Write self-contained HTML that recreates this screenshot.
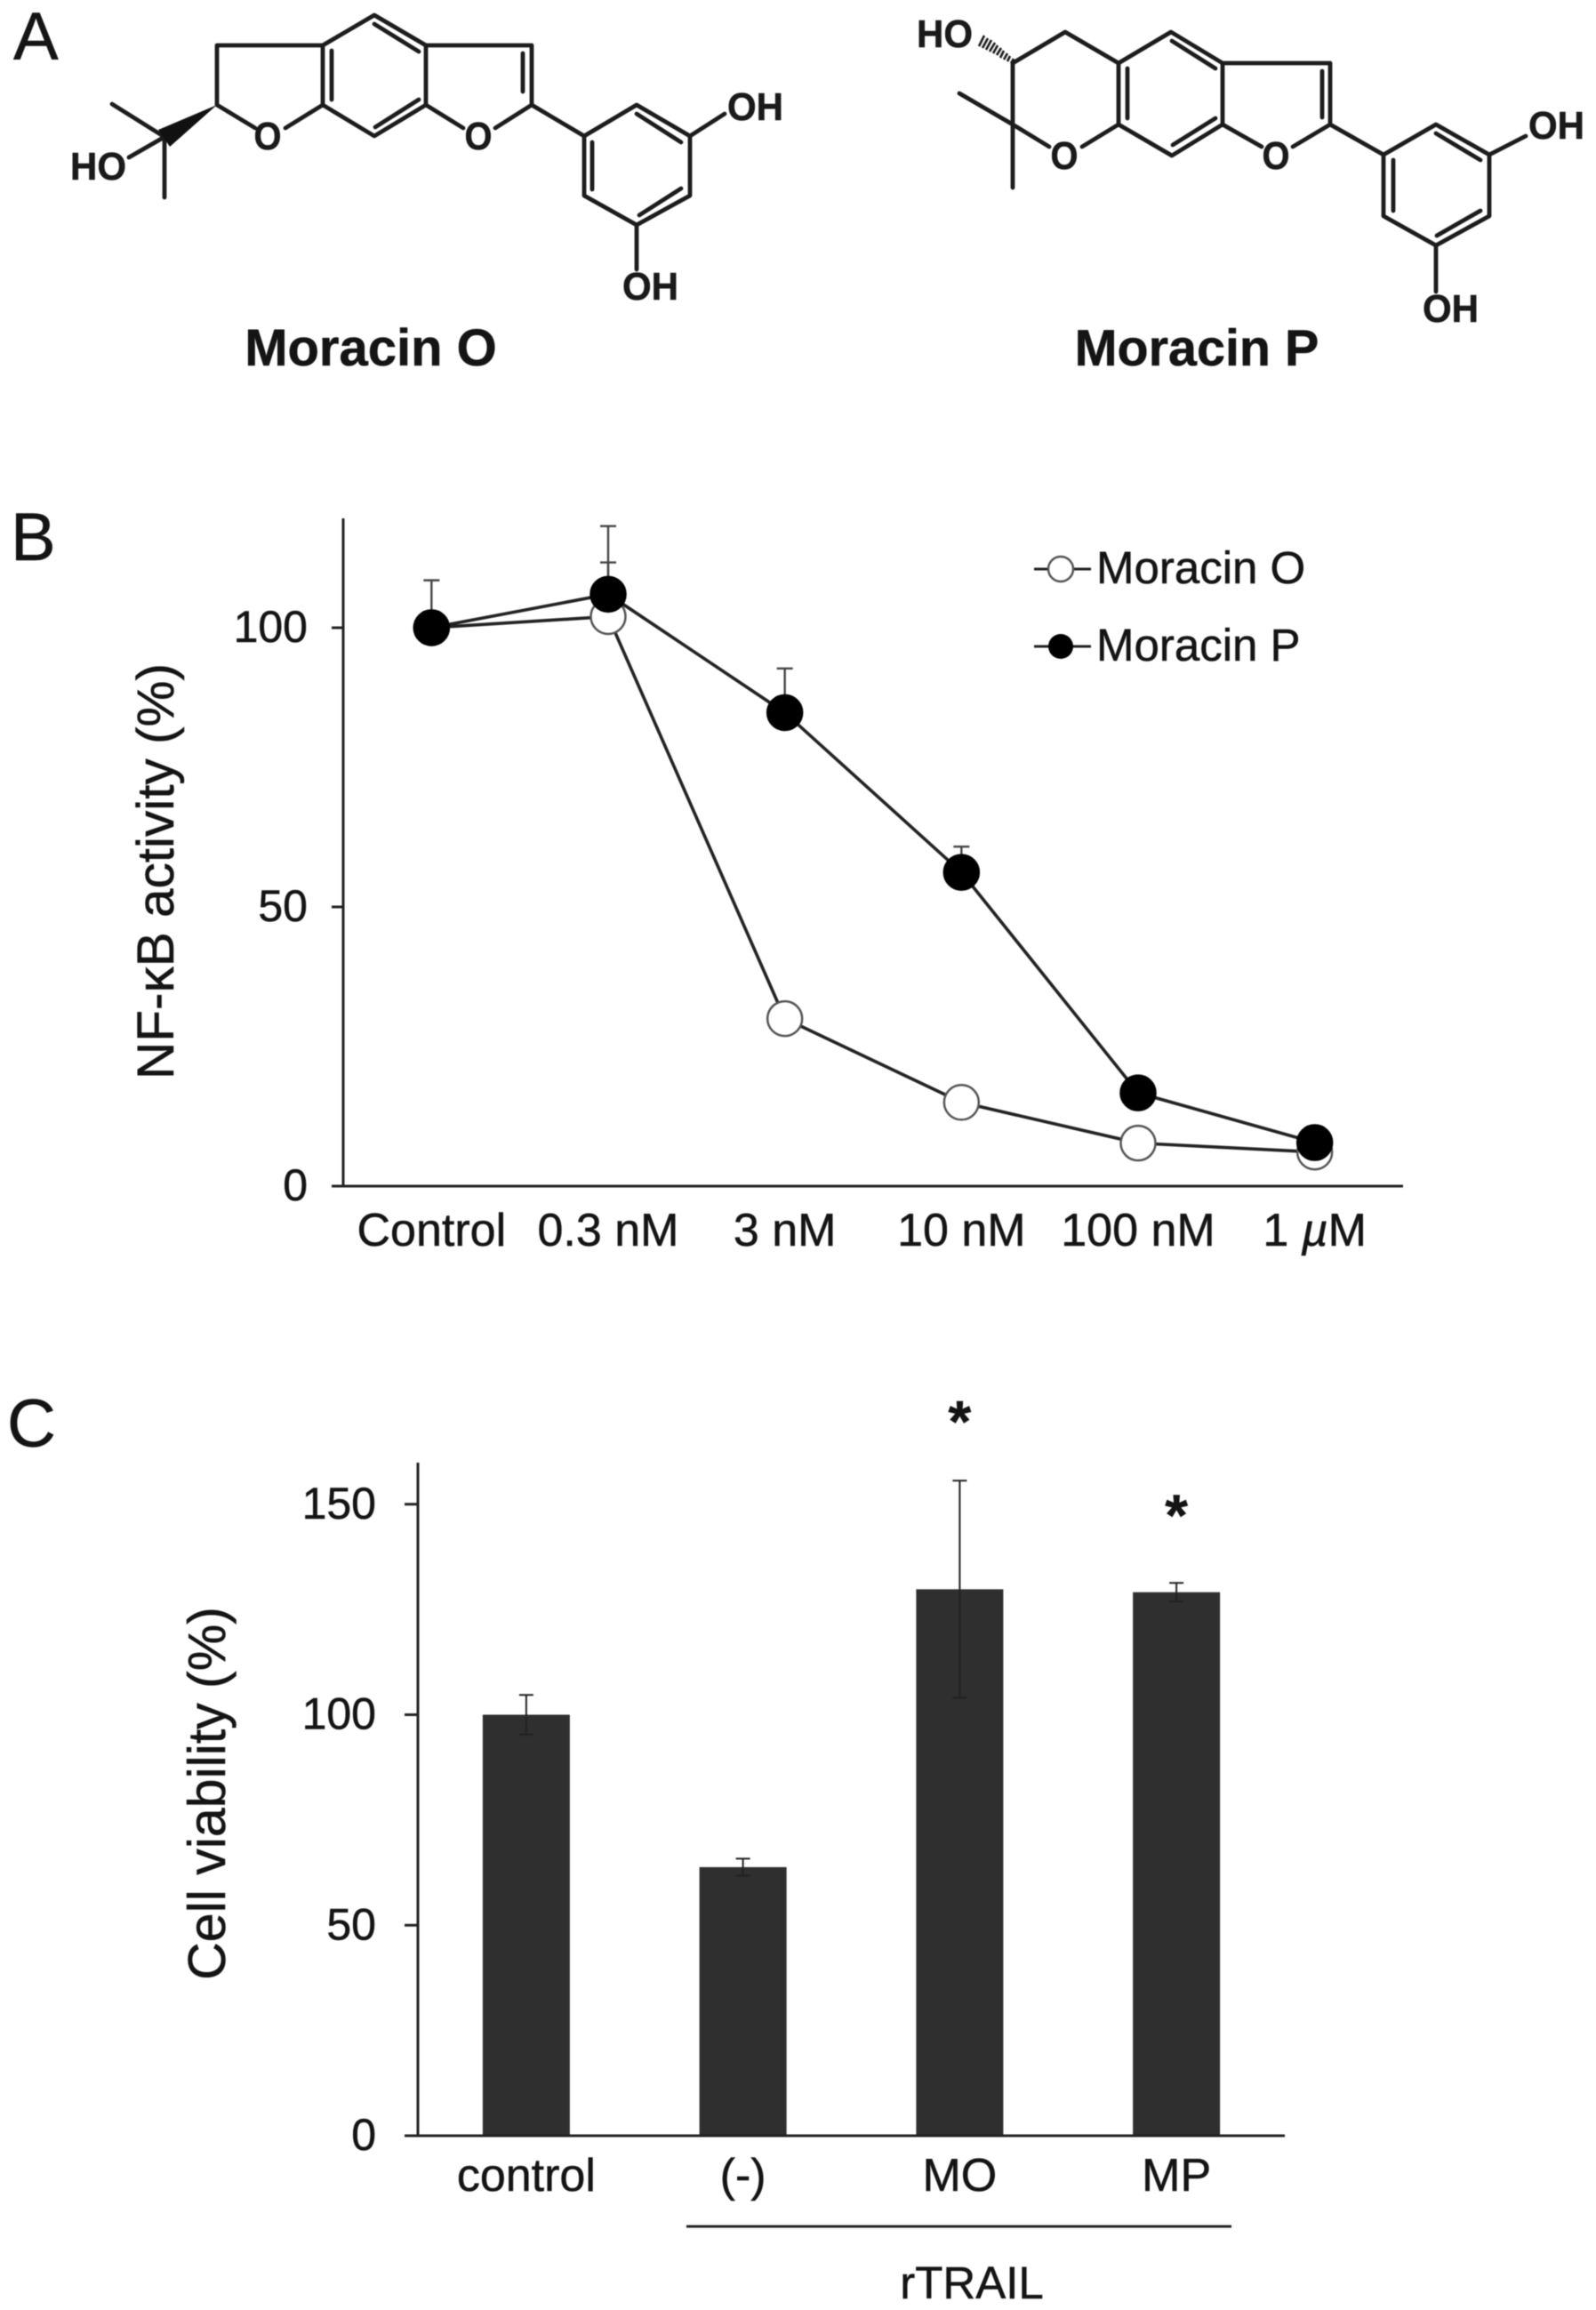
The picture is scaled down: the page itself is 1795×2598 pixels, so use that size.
<!DOCTYPE html>
<html lang="en">
<head>
<meta charset="utf-8">
<title>Moracin O and P figure</title>
<style>
html,body{margin:0;padding:0;background:#fff;width:1795px;height:2598px;overflow:hidden}
svg{display:block;filter:blur(0.6px)}
text{font-family:"Liberation Sans",Arial,sans-serif;fill:#141414;stroke:#141414;stroke-width:.5px}
.bond{fill:none;stroke:#1c1c1c;stroke-width:4.8;stroke-linecap:round;stroke-linejoin:round}
.atom{font-size:44px;font-weight:bold;fill:#1a1a1a}
.panel{font-size:76px}
.tick{font-size:50px}
.xtick{font-size:52px}
.axis{stroke:#222;stroke-width:3;fill:none}
</style>
</head>
<body>
<svg id="fig" xmlns="http://www.w3.org/2000/svg" width="1795" height="2598" viewBox="0 0 1795 2598">
  <rect x="0" y="0" width="1795" height="2598" fill="#fff"/>

  <text class="panel" x="15" y="67">A</text>
  <text class="panel" x="12" y="630">B</text>
  <text class="panel" x="8" y="1627">C</text>

  <g>
    <path class="bond" d="M421 17L479 51L479 118L421 153L363 118L363 51Z M421 27L471 58 M373 57L373 112 M471 112L422 143 M363 51L244 51L244 118L287 144 M363 118L321 144 M479 51L598 51L598 118L557 144 M479 118L521 144 M588 60L588 103 M598 118L657 153 M657 153L716 118L776 153L776 220L716 253L657 220Z M716 128L766 160 M666 160L666 213 M766 212L719 242 M776 153L815 128 M716 253L716 303 M185 154L126 117 M185 154L185 222 M185 154L145 177"/>
    <path d="M244 118L191 165L178 146Z" fill="#111"/>
    <text class="atom" x="301" y="168" text-anchor="middle" textLength="31" lengthAdjust="spacingAndGlyphs">O</text>
    <text class="atom" x="538" y="168" text-anchor="middle" textLength="31" lengthAdjust="spacingAndGlyphs">O</text>
    <text class="atom" x="818" y="135" textLength="63" lengthAdjust="spacingAndGlyphs">OH</text>
    <text class="atom" x="700" y="337" textLength="63" lengthAdjust="spacingAndGlyphs">OH</text>
    <text class="atom" x="79" y="202" textLength="63" lengthAdjust="spacingAndGlyphs">HO</text>
  </g>
  <text x="417" y="411" text-anchor="middle" font-size="58" font-weight="bold">Moracin O</text>

  <g>
    <path class="bond" d="M1317 36L1375 71L1375 140L1318 175L1258 140L1258 71Z M1318 46L1367 77 M1268 77L1268 133 M1367 133L1319 163 M1258 71L1198 36L1139 71L1139 140L1180 165 M1258 140L1217 165 M1375 71L1496 71L1496 140L1454 165 M1375 140L1419 165 M1487 80L1487 132 M1496 140L1556 174 M1556 174L1615 140L1675 174L1675 243L1615 276L1556 243Z M1615 150L1665 180 M1567 180L1567 237 M1665 237L1616 265 M1675 174L1716 153 M1615 276L1615 328 M1139 140L1079 105 M1139 140L1139 211"/>
    <path d="M1137 71L1140 66 M1133 69L1136 63 M1129 67L1133 60 M1125 65L1129 57 M1121 62L1126 54 M1117 60L1122 51 M1113 58L1119 48 M1109 56L1115 45 M1105 54L1111 43 M1101 52L1107 40" fill="none" stroke="#1c1c1c" stroke-width="2.6"/>
    <text class="atom" x="1197" y="190" text-anchor="middle" textLength="31" lengthAdjust="spacingAndGlyphs">O</text>
    <text class="atom" x="1435" y="190" text-anchor="middle" textLength="31" lengthAdjust="spacingAndGlyphs">O</text>
    <text class="atom" x="1719" y="156" textLength="63" lengthAdjust="spacingAndGlyphs">OH</text>
    <text class="atom" x="1600" y="362" textLength="63" lengthAdjust="spacingAndGlyphs">OH</text>
    <text class="atom" x="1031" y="53" textLength="63" lengthAdjust="spacingAndGlyphs">HO</text>
  </g>
  <text x="1346" y="411" text-anchor="middle" font-size="57.5" font-weight="bold">Moracin P</text>

  <g id="chart-b"></g>
  <g>
    <g>
      <line x1="1163" y1="640" x2="1227" y2="640" stroke="#222" stroke-width="3"/>
      <circle cx="1193" cy="640" r="14" fill="#fff" stroke="#555" stroke-width="2.5"/>
      <text x="1233" y="656" font-size="51">Moracin O</text>
    </g>
    <g>
      <line x1="1163" y1="727" x2="1227" y2="727" stroke="#222" stroke-width="3"/>
      <circle cx="1193" cy="727" r="14" fill="#000"/>
      <text x="1233" y="743" font-size="51">Moracin P</text>
    </g>
  </g>
  <text transform="translate(195 980) rotate(-90)" text-anchor="middle" font-size="58.5">NF-κB activity (%)</text>

  <g id="chart-c"></g>
  <text transform="translate(253 2017) rotate(-90)" text-anchor="middle" font-size="59">Cell viability (%)</text>
  <line x1="772" y1="2504" x2="1385" y2="2504" stroke="#222" stroke-width="3"/>
  <text x="1093" y="2585" text-anchor="middle" font-size="51">rTRAIL</text>
</svg>

<script>
// Panel B data
const doseLabels = ['Control', '0.3 nM', '3 nM', '10 nM', '100 nM', '1 µM'];
const moracinOValues = [100, 102, 30, 15, 7.7, 6.1];
const moracinPValues = [100, 106, 84.8, 56.2, 16.7, 7.8];
const moracinOErrors = [0, 9.7, 0, 0, 0, 0];
const moracinPErrors = [8.5, 12.2, 7.9, 4.6, 0, 0];
const activityTicks = [0, 50, 100];

// Panel C data
const groupLabels = ['control', '(-)', 'MO', 'MP'];
const viabilityValues = [100, 63.8, 129.8, 129.1];
const viabilityErrors = [4.7, 2, 25.8, 2.2];
const viabilityStarLevels = [0, 0, 164.8, 142.6];
const viabilityTicks = [0, 50, 100, 150];

const SVG_NS = 'http://www.w3.org/2000/svg';
function make(parent, tag, attrs, content) {
  const el = document.createElementNS(SVG_NS, tag);
  for (const k in attrs) el.setAttribute(k, attrs[k]);
  if (content !== undefined) el.textContent = content;
  parent.appendChild(el);
  return el;
}

/* ---------- Panel B ---------- */
(function () {
  const root = document.getElementById('chart-b');
  const left = 386, right = 1578, bottom = 1334, top = 583;
  const band = (right - left) / doseLabels.length;
  const x = i => left + band * (i + 0.5);
  const y = v => bottom - v * 6.28;

  const yAxis = make(root, 'line', {x1: left, y1: top, x2: left, y2: bottom, class: 'axis'});
  
  
  const xAxis = make(root, 'line', {x1: 373, y1: bottom, x2: right, y2: bottom, class: 'axis'});
  
  

  activityTicks.forEach(t => {
    const tick = make(root, 'line', {x1: 373, y1: y(t), x2: left, y2: y(t), class: 'axis'});
    
    
    const lab = make(root, 'text', {x: 346, y: y(t) + 16, 'text-anchor': 'end', class: 'tick'}, String(t));
    
    
  });

  doseLabels.forEach((d, i) => {
    const lab = make(root, 'text', {x: x(i), y: 1401, 'text-anchor': 'middle', class: 'xtick'});
    
    
    if (d.indexOf('µ') >= 0) {
      const parts = d.split('µ');
      make(lab, 'tspan', {}, parts[0]);
      make(lab, 'tspan', {'font-style': 'italic'}, 'µ');
      make(lab, 'tspan', {}, parts[1]);
    } else {
      lab.textContent = d;
    }
  });

  function drawSeries(values, errors, markerFill, markerStroke, key) {
    errors.forEach((e, i) => {
      if (!e) return;
      const top = y(values[i] + e);
      const stem = make(root, 'line', {x1: x(i), y1: y(values[i]), x2: x(i), y2: top, stroke: '#444', 'stroke-width': 2.4});
      
      
      const cap = make(root, 'line', {x1: x(i) - 9, y1: top, x2: x(i) + 9, y2: top, stroke: '#444', 'stroke-width': 2.4});
      
      
    });
    const pts = values.map((v, i) => x(i) + ',' + y(v)).join(' ');
    const line = make(root, 'polyline', {points: pts, fill: 'none', stroke: '#222', 'stroke-width': 3.6});
    
    
    values.forEach((v, i) => {
      const m = make(root, 'circle', {cx: x(i), cy: y(v), r: 19.5, fill: markerFill, stroke: markerStroke, 'stroke-width': 2.5});
      
      
    });
  }
  drawSeries(moracinOValues, moracinOErrors, '#fff', '#555', 'moracin-o');
  drawSeries(moracinPValues, moracinPErrors, '#000', '#000', 'moracin-p');
})();

/* ---------- Panel C ---------- */
(function () {
  const root = document.getElementById('chart-c');
  const left = 470, right = 1445, bottom = 2402, top = 1645;
  const band = (right - left) / groupLabels.length;
  const barW = 98;
  const x = i => left + band * (i + 0.5);
  const y = v => bottom - v * 4.735;

  viabilityValues.forEach((v, i) => {
    const bar = make(root, 'rect', {x: x(i) - barW / 2, y: y(v), width: barW, height: bottom - y(v), fill: '#2f2f2f'});
    
    
  });

  const yAxis = make(root, 'line', {x1: left, y1: top, x2: left, y2: bottom, class: 'axis'});
  
  
  const xAxis = make(root, 'line', {x1: 455, y1: bottom, x2: right, y2: bottom, class: 'axis'});
  
  

  viabilityTicks.forEach(t => {
    const tick = make(root, 'line', {x1: 455, y1: y(t), x2: left, y2: y(t), class: 'axis'});
    
    
    const lab = make(root, 'text', {x: 423, y: y(t) + 16, 'text-anchor': 'end', class: 'tick'}, String(t));
    
    
  });

  groupLabels.forEach((g, i) => {
    const lab = make(root, 'text', {x: x(i), y: 2464, 'text-anchor': 'middle', class: 'xtick'}, g);
    
    
  });

  viabilityErrors.forEach((e, i) => {
    const hi = y(viabilityValues[i] + e), lo = y(viabilityValues[i] - e), cx = x(i);
    const stem = make(root, 'line', {x1: cx, y1: hi, x2: cx, y2: lo, stroke: '#222', 'stroke-width': 2});
    
    
    const capHi = make(root, 'line', {x1: cx - 8, y1: hi, x2: cx + 8, y2: hi, stroke: '#222', 'stroke-width': 2});
    
    
    const capLo = make(root, 'line', {x1: cx - 8, y1: lo, x2: cx + 8, y2: lo, stroke: '#222', 'stroke-width': 2});
    
    
    if (viabilityStarLevels[i]) {
      const star = make(root, 'text', {x: cx, y: y(viabilityStarLevels[i]), 'text-anchor': 'middle', 'font-size': 66, 'font-weight': 'bold'}, '*');
      
      
    }
  });
})();
</script>
</body>
</html>
